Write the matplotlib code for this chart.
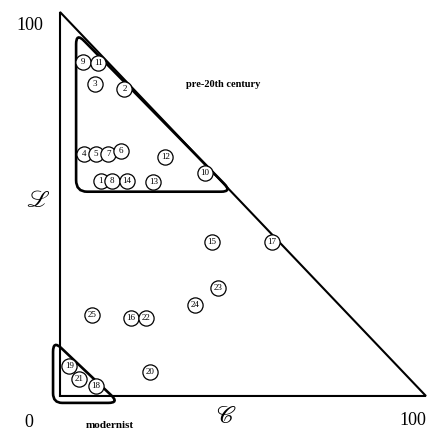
import matplotlib.pyplot as plt
import numpy as np
from matplotlib.path import Path
from matplotlib.patches import PathPatch

plt.rcParams['font.family'] = ['Liberation Serif', 'DejaVu Serif']
plt.rcParams['mathtext.fontset'] = 'stix'

# poems: number, C share, L share
labels = ['9', '11', '3', '2', '4', '5', '7', '6', '12', '10', '1', '8', '14', '13',
          '15', '17', '23', '24', '25', '16', '22', '19', '21', '18', '20']
c_vals = [6.2, 10.5, 9.6, 17.6, 6.6, 9.8, 13.2, 16.6, 28.8, 39.5, 11.1, 14.3, 18.2, 25.5,
          41.5, 57.8, 43.3, 36.9, 8.7, 19.4, 23.4, 2.5, 5.3, 9.8, 24.6]
l_vals = [87.1, 86.8, 81.3, 79.9, 63.0, 63.0, 63.0, 63.9, 62.3, 58.1, 56.1, 56.1, 56.1, 55.6,
          40.2, 40.2, 28.2, 23.7, 21.1, 20.4, 20.4, 7.9, 4.4, 2.7, 6.2]

# group outlines (hand drawn regions), corner points and rounding
pre20_region = [(4.4, 94.6), (4.4, 53.2), (47.0, 53.2)]
pre20_round = [3.0, 3.0, 3.0]
modern_region = [(-1.9, 14.5), (-1.9, -1.8), (16.2, -1.8)]
modern_round = [3.0, 2.5, 3.0]


def rounded_shape(pts, radii):
    pts = [np.array(p, float) for p in pts]
    n = len(pts)
    verts, codes = [], []
    for i in range(n):
        p = pts[i]
        prev = pts[i - 1]
        nxt = pts[(i + 1) % n]
        r = radii[i]
        a = p + (prev - p) / np.linalg.norm(prev - p) * r
        b = p + (nxt - p) / np.linalg.norm(nxt - p) * r
        verts.append(a)
        codes.append(Path.MOVETO if i == 0 else Path.LINETO)
        verts += [p, b]
        codes += [Path.CURVE3, Path.CURVE3]
    verts.append(verts[0])
    codes.append(Path.LINETO)
    return Path(verts, codes)


fig = plt.figure(figsize=(4.28, 4.33), dpi=100)
ax = fig.add_axes([0.1402, 0.0855, 0.855, 0.8868])
ax.set_xlim(0, 100)
ax.set_ylim(0, 100)
ax.axis('off')

# triangle frame
ax.plot([0, 0, 100, 0], [0, 100, 0, 0], color='black', lw=1.5, clip_on=False,
        solid_joinstyle='miter')

for reg, rad in [(pre20_region, pre20_round), (modern_region, modern_round)]:
    ax.add_patch(PathPatch(rounded_shape(reg, rad), fill=False, lw=1.9,
                           edgecolor='black', clip_on=False, zorder=2))

for i, (lab, c, l) in enumerate(zip(labels, c_vals, l_vals)):
    ax.scatter([c], [l], s=120, facecolor='white', edgecolor='black', lw=0.9,
               zorder=3 + 2 * i, clip_on=False)
    ax.text(c, l, lab, fontsize=6.5, ha='center', va='center', zorder=4 + 2 * i)

ax.text(-8.2, 96.6, '100', fontsize=13, ha='center', va='center', clip_on=False)
ax.text(-8.4, -7.0, '0', fontsize=13, ha='center', va='center', clip_on=False)
ax.text(96.4, -6.3, '100', fontsize=13, ha='center', va='center', clip_on=False)
ax.text(-6.0, 50.6, r'$\mathscr{L}$', fontsize=17, ha='center', va='center')
ax.text(45.5, -5.7, r'$\mathscr{C}$', fontsize=17, ha='center', va='center')
ax.text(44.5, 81.0, 'pre-20th century', fontsize=7.5, fontweight='bold', ha='center',
        va='center')
ax.text(13.7, -7.8, 'modernist', fontsize=8, fontweight='bold', ha='center', va='center')

fig.savefig('out.png', dpi=100)
